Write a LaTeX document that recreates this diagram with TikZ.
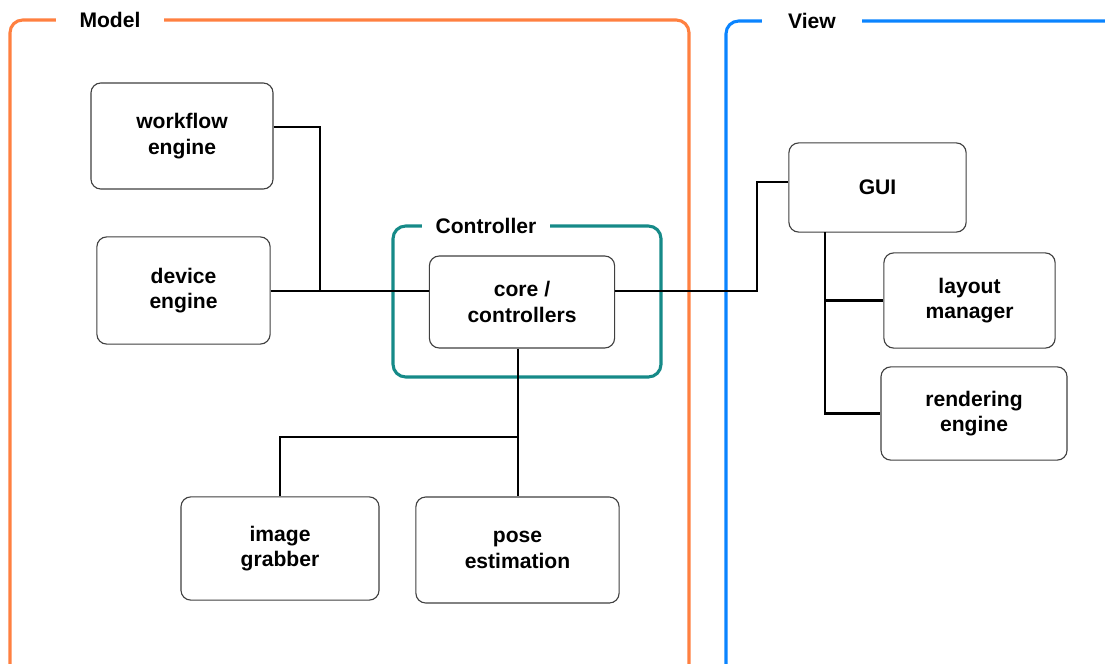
\documentclass[tikz,border=0pt]{standalone}
\usepackage{fontspec}
\setmainfont{Liberation Sans}
\usetikzlibrary{calc,positioning}
\definecolor{ModelOrange}{HTML}{FF8040}
\definecolor{ViewBlue}{HTML}{0A84FF}
\definecolor{CtrlTeal}{HTML}{168A88}
\definecolor{BoxEdge}{HTML}{404040}
\tikzset{
  module/.style={
    rounded corners=7pt, draw=BoxEdge, line width=0.8pt, fill=white,
    align=center, font=\fontsize{15}{18}\selectfont\bfseries
  },
  frame/.style={rounded corners=9pt, line width=2.2pt},
  frametitle/.style={
    fill=white, inner xsep=0.6cm, inner ysep=2pt,
    font=\fontsize{15}{18}\selectfont\bfseries
  },
  link/.style={line width=1.5pt, draw=black}
}

\begin{document}
\begin{tikzpicture}[x=0.025cm,y=-0.025cm]
  \useasboundingbox (0,0) rectangle (1105,664);
  \clip (0,0) rectangle (1105,664);

  % the three layers
  \draw[frame,draw=ModelOrange] (10,20) rectangle (689,678);
  \node[frametitle] (modelTitle) at (110,20) {Model};
  \draw[frame,draw=ViewBlue] (726,21) rectangle (1125,678);
  \node[frametitle,inner xsep=0.65cm] (viewTitle) at (812,21) {View};
  \draw[frame,draw=CtrlTeal] (393,226) rectangle (661,377);
  \node[frametitle,inner xsep=0.35cm] (ctrlTitle) at (486,226) {Controller};

  % modules
  \node[module,minimum width=4.55cm,minimum height=2.65cm] (workflow) at (182,136) {workflow\\engine};
  \node[module,minimum width=4.33cm,minimum height=2.68cm] (device) at (183.5,290.5) {device\\engine};
  \node[module,minimum width=4.63cm,minimum height=2.3cm] (core) at (522,302) {core /\\controllers};
  \node[module,minimum width=4.95cm,minimum height=2.58cm] (grabber) at (280,548.5) {image\\grabber};
  \node[module,minimum width=5.08cm,minimum height=2.65cm] (pose) at (517.5,550) {pose\\estimation};
  \node[module,minimum width=4.43cm,minimum height=2.23cm] (gui) at (877.5,187.5) {GUI};
  \node[module,minimum width=4.28cm,minimum height=2.38cm] (layout) at (969.5,300.5) {layout\\manager};
  \node[module,minimum width=4.65cm,minimum height=2.33cm] (render) at (974,413.5) {rendering\\engine};

  % junction points
  \coordinate (busL) at (320,291);
  \coordinate (turn) at (757,182);
  \coordinate (split) at (518,437);
  \coordinate (vbus) at (825,232);

  % connectors
  \draw[link] ([yshift=0.225cm]workflow.east) -| (busL);
  \draw[link] (device.east |- busL) -- (core.west |- busL);
  \draw[link] (core.east |- busL) -| (turn) -- (gui.west |- turn);
  \draw[link] (split |- core.south) -- (split |- pose.north);
  \draw[link] (split) -| (grabber.north);
  \draw[link] (vbus) |- (render.west);
  \draw[link] (vbus |- layout.west) -- (layout.west);
\end{tikzpicture}
\end{document}
